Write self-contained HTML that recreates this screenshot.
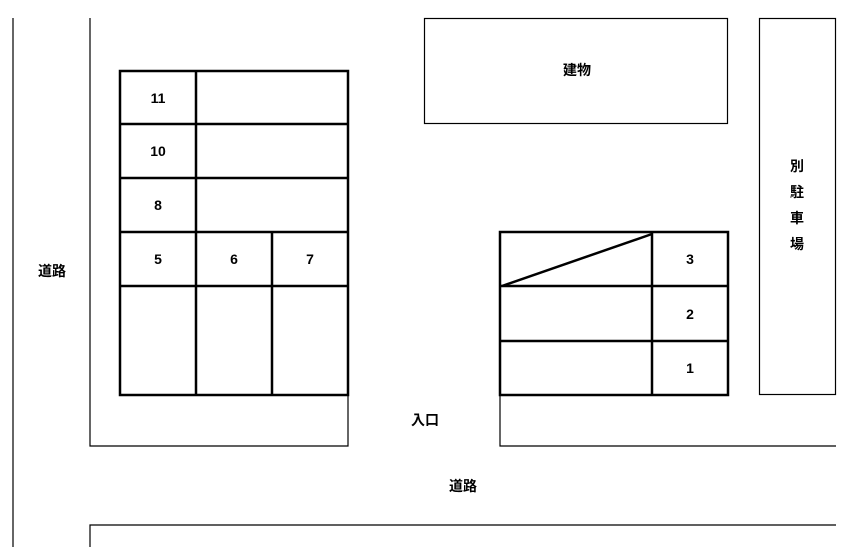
<!DOCTYPE html>
<html><head><meta charset="utf-8"><style>
html,body{margin:0;padding:0;background:#fff;width:859px;height:547px;overflow:hidden}
svg text{font-family:"Liberation Sans","Noto Sans CJK JP",sans-serif;font-size:14px;font-weight:bold;fill:#000;text-anchor:middle;dominant-baseline:central}
</style></head><body>
<svg width="859" height="547" viewBox="0 0 859 547" xmlns="http://www.w3.org/2000/svg">
<g stroke="#000" fill="none" stroke-width="1.2">
<line x1="13" y1="18" x2="13" y2="547"/>
<polyline points="90,18 90,446 348,446 348,395"/>
<polyline points="500,395 500,446 836,446"/>
<polyline points="90,547 90,525 836,525"/>
<rect x="424.5" y="18.5" width="303" height="105"/>
<rect x="759.5" y="18.5" width="76" height="376"/>
</g>
<g stroke="#000" fill="none" stroke-width="2.5">
<rect x="120" y="71" width="228" height="324"/>
<line x1="120" y1="124" x2="348" y2="124"/>
<line x1="120" y1="178" x2="348" y2="178"/>
<line x1="120" y1="232" x2="348" y2="232"/>
<line x1="120" y1="286" x2="348" y2="286"/>
<line x1="196" y1="71" x2="196" y2="395"/>
<line x1="272" y1="232" x2="272" y2="395"/>
<rect x="500" y="232" width="228" height="163"/>
<line x1="500" y1="286" x2="728" y2="286"/>
<line x1="500" y1="341" x2="728" y2="341"/>
<line x1="652" y1="232" x2="652" y2="395"/>
<line x1="502" y1="286" x2="652" y2="234"/>
</g>
<text x="158" y="98">11</text>
<text x="158" y="151">10</text>
<text x="158" y="205">8</text>
<text x="158" y="259">5</text>
<text x="234" y="259">6</text>
<text x="310" y="259">7</text>
<text x="690" y="259">3</text>
<text x="690" y="314">2</text>
<text x="690" y="368">1</text>
<text x="52" y="271">道路</text>
<text x="425" y="420">入口</text>
<text x="463" y="486">道路</text>
<text x="577" y="70">建物</text>
<text x="797" y="166">別</text>
<text x="797" y="192">駐</text>
<text x="797" y="218">車</text>
<text x="797" y="244">場</text>
</svg>
</body></html>
